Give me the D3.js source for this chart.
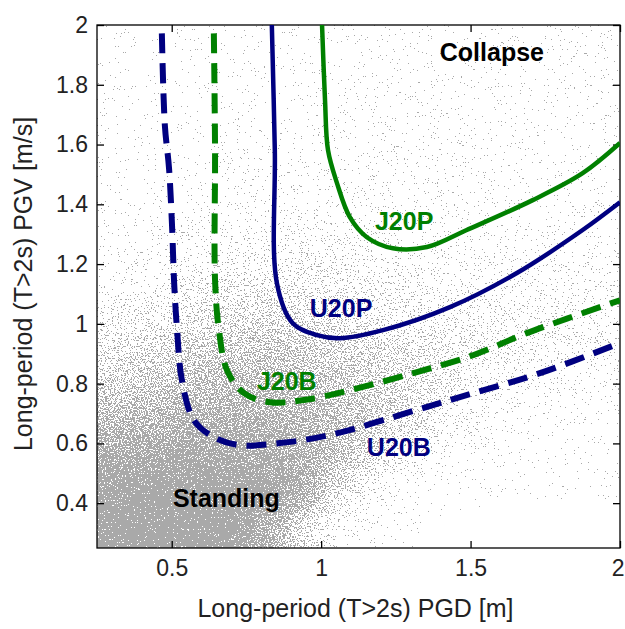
<!DOCTYPE html>
<html>
<head>
<meta charset="utf-8">
<script src="https://cdn.jsdelivr.net/npm/d3@7"></script>
<style>
  body { margin: 0; background: #fff; }
  svg text { font-family: Arial, "Liberation Sans", sans-serif; }
</style>
</head>
<body>
<div id="chart"></div>
<script>
var width = 625;
var height = 629;

var margin = { "top": 25,
               "bottom": 81,
               "left": 97,
               "right": 5 };

var xTicks = [0.5, 1, 1.5, 2];
var yTicks = [0.4, 0.6, 0.8, 1, 1.2, 1.4, 1.6, 1.8, 2];

// simulated building responses, read off the picture as a density grid
// (lower edge of each 0.125 bin, rows listed from top to bottom)
var binPGD = [0.25, 0.375, 0.5, 0.625, 0.75, 0.875, 1, 1.125, 1.25, 1.375, 1.5, 1.625, 1.75, 1.875];
var binPGV = [1.875, 1.75, 1.625, 1.5, 1.375, 1.25, 1.125, 1, 0.875, 0.75, 0.625, 0.5, 0.375, 0.25];
var density = [
  [0.02, 0.02, 0.02, 0.02, 0.03, 0.04, 0.04, 0.04, 0.04, 0.04, 0.04, 0.04, 0.04, 0.04],
  [0.02, 0.02, 0.02, 0.03, 0.04, 0.05, 0.05, 0.05, 0.05, 0.05, 0.05, 0.05, 0.05, 0.05],
  [0.03, 0.03, 0.03, 0.04, 0.05, 0.06, 0.06, 0.06, 0.06, 0.06, 0.05, 0.05, 0.05, 0.05],
  [0.03, 0.03, 0.04, 0.05, 0.06, 0.07, 0.07, 0.07, 0.07, 0.06, 0.06, 0.06, 0.05, 0.05],
  [0.04, 0.04, 0.05, 0.07, 0.08, 0.09, 0.09, 0.08, 0.08, 0.07, 0.07, 0.06, 0.06, 0.06],
  [0.05, 0.06, 0.10, 0.12, 0.13, 0.14, 0.13, 0.12, 0.11, 0.10, 0.09, 0.08, 0.07, 0.07],
  [0.09, 0.12, 0.17, 0.20, 0.21, 0.21, 0.19, 0.16, 0.15, 0.13, 0.12, 0.11, 0.10, 0.10],
  [0.17, 0.21, 0.27, 0.31, 0.33, 0.31, 0.28, 0.24, 0.21, 0.18, 0.16, 0.15, 0.15, 0.14],
  [0.28, 0.33, 0.40, 0.44, 0.45, 0.43, 0.39, 0.34, 0.29, 0.25, 0.22, 0.20, 0.18, 0.17],
  [0.40, 0.46, 0.51, 0.55, 0.55, 0.53, 0.48, 0.43, 0.35, 0.26, 0.18, 0.12, 0.10, 0.09],
  [0.54, 0.58, 0.62, 0.64, 0.63, 0.59, 0.52, 0.43, 0.31, 0.20, 0.13, 0.08, 0.05, 0.04],
  [0.70, 0.74, 0.77, 0.76, 0.72, 0.64, 0.52, 0.35, 0.18, 0.09, 0.05, 0.03, 0.02, 0.02],
  [0.86, 0.90, 0.91, 0.89, 0.84, 0.67, 0.34, 0.11, 0.04, 0.02, 0.01, 0.01, 0.01, 0.01],
  [0.92, 0.94, 0.92, 0.88, 0.66, 0.33, 0.08, 0.02, 0.01, 0.00, 0.00, 0.00, 0.00, 0.00]
];

// collapse boundaries [PGD, PGV]
var u20p = [[0.835, 2.0], [0.845, 1.581], [0.852, 1.136], [0.905, 1.002], [0.986, 0.962],
            [1.063, 0.952], [1.207, 0.979], [1.431, 1.056], [1.655, 1.170], [1.875, 1.314], [2.0, 1.407]];
var j20p = [[1.003, 2.0], [1.013, 1.748], [1.023, 1.581], [1.053, 1.471], [1.096, 1.357], [1.153, 1.290],
            [1.240, 1.253], [1.354, 1.257], [1.487, 1.314], [1.708, 1.414], [1.875, 1.504], [2.0, 1.605]];
var u20b = [[0.467, 1.972], [0.477, 1.665], [0.491, 1.521], [0.501, 1.330], [0.508, 1.140], [0.518, 0.979],
            [0.534, 0.812], [0.574, 0.678], [0.641, 0.621], [0.728, 0.594], [0.862, 0.601], [1.029, 0.628],
            [1.320, 0.712], [1.508, 0.768], [1.732, 0.835], [2.0, 0.936]];
var j20b = [[0.641, 1.972], [0.645, 1.581], [0.645, 1.146], [0.658, 0.979], [0.685, 0.845], [0.742, 0.768],
            [0.829, 0.738], [0.942, 0.745], [1.096, 0.778], [1.307, 0.835], [1.508, 0.895], [1.688, 0.969],
            [2.0, 1.079]];

var notes = [
  { "text": "Collapse", "x": 1.397, "y": 1.879, "color": "#000" },
  { "text": "Standing", "x": 0.504, "y": 0.387, "color": "#000" },
  { "text": "U20P", "x": 0.962, "y": 1.023, "color": "#000080" },
  { "text": "J20P", "x": 1.180, "y": 1.314, "color": "#008000" },
  { "text": "J20B", "x": 0.785, "y": 0.778, "color": "#008000" },
  { "text": "U20B", "x": 1.153, "y": 0.558, "color": "#000080" }
];

var innerW = width - margin.left - margin.right;
var innerH = height - margin.top - margin.bottom;

var svgRoot = d3.select("#chart")
              .append("svg")
              .attr("width", width)
              .attr("height", height);

var svg = svgRoot.append("g")
              .attr("transform", "translate(" + margin.left + "," + margin.top + ")");

var scaleX = d3.scaleLinear().domain([0.25, 2]).range([0, innerW]);
var scaleY = d3.scaleLinear().domain([0.25, 2]).range([innerH, 0]);

var defs = svgRoot.append("defs");

defs.append("clipPath")
    .attr("id", "plotClip")
    .append("rect")
    .attr("width", innerW)
    .attr("height", innerH);

// speckle texture: blurred density thresholded against fine noise
var f = defs.append("filter")
    .attr("id", "speckle")
    .attr("filterUnits", "userSpaceOnUse")
    .attr("x", -20).attr("y", -20)
    .attr("width", innerW + 40).attr("height", innerH + 40)
    .attr("color-interpolation-filters", "sRGB");

f.append("feGaussianBlur")
    .attr("in", "SourceAlpha")
    .attr("stdDeviation", 14)
    .attr("result", "soft");
f.append("feTurbulence")
    .attr("type", "fractalNoise")
    .attr("baseFrequency", 0.7)
    .attr("numOctaves", 2)
    .attr("seed", 7)
    .attr("result", "noise");
f.append("feColorMatrix")
    .attr("in", "noise")
    .attr("type", "matrix")
    .attr("values", "0 0 0 0 0  0 0 0 0 0  0 0 0 0 0  1 0 0 0 0")
    .attr("result", "noiseA");
f.append("feComponentTransfer")
    .attr("in", "noiseA")
    .attr("result", "noiseS")
    .append("feFuncA")
    .attr("type", "linear")
    .attr("slope", 2.0)
    .attr("intercept", -0.48);
f.append("feComposite")
    .attr("in", "soft")
    .attr("in2", "noiseS")
    .attr("operator", "arithmetic")
    .attr("k1", 0).attr("k2", 1).attr("k3", -1).attr("k4", 0.49)
    .attr("result", "diff");
f.append("feComponentTransfer")
    .attr("in", "diff")
    .attr("result", "mask")
    .append("feFuncA")
    .attr("type", "discrete")
    .attr("tableValues", "0 1");
f.append("feFlood")
    .attr("flood-color", "#a9a9a9")
    .attr("result", "grey");
f.append("feComposite")
    .attr("in", "grey")
    .attr("in2", "mask")
    .attr("operator", "in");

drawCloud();
drawAxes();
drawCurve(j20b, "#008000", 6, "20 10");
drawCurve(u20b, "#000080", 6, "20 10");
drawCurve(j20p, "#008000", 4.5, null);
drawCurve(u20p, "#000080", 4.5, null);
drawNotes();
drawLabels();

function drawCloud() {
  var cells = [];
  var step = 0.125;
  binPGV.forEach(function(y0, r) {
    binPGD.forEach(function(x0, c) {
      // stretch edge cells outward so the blur does not fade at the frame
      var xa = c === 0 ? x0 - 0.15 : x0;
      var xb = c === binPGD.length - 1 ? x0 + step + 0.15 : x0 + step;
      var ya = r === binPGV.length - 1 ? y0 - 0.15 : y0;
      var yb = r === 0 ? y0 + step + 0.15 : y0 + step;
      cells.push({ "x0": xa, "x1": xb, "y0": ya, "y1": yb, "d": density[r][c] });
    });
  });

  svg.append("g")
     .attr("clip-path", "url(#plotClip)")
     .append("g")
     .attr("filter", "url(#speckle)")
     .selectAll("rect")
     .data(cells)
     .enter()
     .append("rect")
     .attr("x", function(d) { return scaleX(d.x0) })
     .attr("y", function(d) { return scaleY(d.y1) })
     .attr("width", function(d) { return scaleX(d.x1) - scaleX(d.x0) + 0.5 })
     .attr("height", function(d) { return scaleY(d.y0) - scaleY(d.y1) + 0.5 })
     .attr("fill", "#000")
     .attr("fill-opacity", function(d) { return d.d });
}

function drawCurve(points, color, w, dash) {
  var line = d3.line()
               .x(function(d) { return scaleX(d[0]) })
               .y(function(d) { return scaleY(d[1]) })
               .curve(d3.curveCatmullRom.alpha(0.5));

  svg.append("path")
     .datum(points)
     .attr("clip-path", "url(#plotClip)")
     .attr("d", line)
     .attr("fill", "none")
     .attr("stroke", color)
     .attr("stroke-width", w)
     .attr("stroke-dasharray", dash);
}

function drawNotes() {
  svg.selectAll(".note")
     .data(notes)
     .enter()
     .append("text")
     .attr("class", "note")
     .attr("x", function(d) { return scaleX(d.x) })
     .attr("y", function(d) { return scaleY(d.y) })
     .attr("font-size", 25)
     .attr("font-weight", "bold")
     .attr("fill", function(d) { return d.color })
     .text(function(d) { return d.text });
}

function drawAxes() {
  var fmt = function(d) { return String(d) };

  svg.append("g")
     .attr("transform", "translate(0," + innerH + ")")
     .call(d3.axisBottom(scaleX).tickValues(xTicks).tickFormat(fmt)
             .tickSizeInner(-7).tickSizeOuter(0).tickPadding(12))
     .call(styleAxis)
     .selectAll(".tick text")
     .attr("text-anchor", function(d) { return d === 2 ? "end" : "middle" })
     .attr("dx", function(d) { return d === 2 ? 4 : 0 });

  svg.append("g")
     .call(d3.axisLeft(scaleY).tickValues(yTicks).tickFormat(fmt)
             .tickSizeInner(-7).tickSizeOuter(0).tickPadding(9))
     .call(styleAxis);

  svg.append("g")
     .call(d3.axisTop(scaleX).tickValues(xTicks).tickFormat("")
             .tickSizeInner(-7).tickSizeOuter(0))
     .call(styleAxis);

  svg.append("g")
     .attr("transform", "translate(" + innerW + ",0)")
     .call(d3.axisRight(scaleY).tickValues(yTicks).tickFormat("")
             .tickSizeInner(-7).tickSizeOuter(0))
     .call(styleAxis);

  svg.append("rect")
     .attr("width", innerW)
     .attr("height", innerH)
     .attr("fill", "none")
     .attr("stroke", "#000")
     .attr("stroke-width", 1.3);
}

function styleAxis(g) {
  g.attr("font-size", 23)
   .attr("font-family", "Arial, 'Liberation Sans', sans-serif");
  g.select(".domain").remove();
  g.selectAll(".tick line").attr("stroke", "#000").attr("stroke-width", 1.3);
  g.selectAll(".tick text").attr("fill", "#222");
}

function drawLabels() {
  svgRoot.append("text")
     .attr("x", margin.left + innerW / 2 - 3)
     .attr("y", 617)
     .attr("text-anchor", "middle")
     .attr("font-size", 25)
     .attr("fill", "#222")
     .text("Long-period (T>2s) PGD [m]");

  svgRoot.append("text")
     .attr("transform", "translate(32," + 284 + ") rotate(-90)")
     .attr("text-anchor", "middle")
     .attr("font-size", 25)
     .attr("fill", "#222")
     .text("Long-period (T>2s) PGV [m/s]");
}
</script>
</body>
</html>
